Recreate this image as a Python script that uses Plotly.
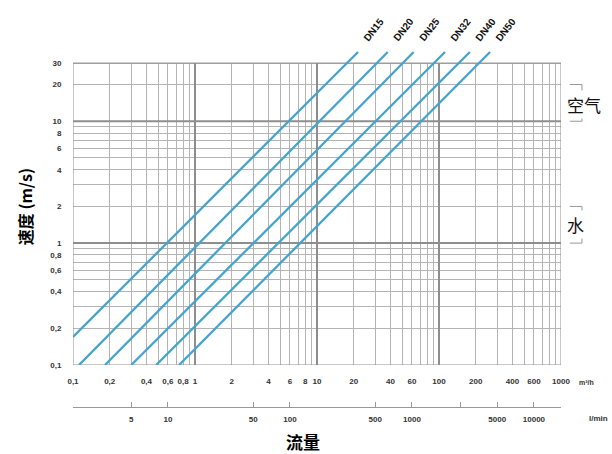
import math
import plotly.graph_objects as go

# ---- data ----
dn_names = ["DN15", "DN20", "DN25", "DN32", "DN40", "DN50"]
flow_start = [0.1, 0.112, 0.183, 0.30, 0.48, 0.74]      # m3/h
vel_start = [0.17, 0.1, 0.1, 0.1, 0.1, 0.1]             # m/s
flow_end = [21.7, 38.0, 62.0, 112.0, 179.0, 262.0]      # m3/h
vel_end = [37.0, 37.0, 37.0, 37.0, 37.0, 37.0]          # m/s

x_tickvals = [0.1, 0.2, 0.4, 0.6, 0.8, 1, 2, 4, 6, 8, 10, 20, 40, 60, 100, 200, 400, 600, 1000]
x_ticktext = ["0,1", "0,2", "0,4", "0,6", "0,8", "1", "2", "4", "6", "8", "10", "20", "40", "60",
              "100", "200", "400", "600", "1000"]
y_tickvals = [0.1, 0.2, 0.4, 0.6, 0.8, 1, 2, 4, 6, 8, 10, 20, 30]
y_ticktext = ["0,1", "0,2", "0,4", "0,6", "0,8", "1", "2", "4", "6", "8", "10", "20", "30"]
lmin_tickvals = [5, 10, 50, 100, 500, 1000, 2500, 5000, 10000]
lmin_ticktext = ["5", "10", "50", "100", "500", "1000", "", "5000", "10000"]

air_range = [10, 20]     # m/s
water_range = [1, 2]     # m/s

# ---- geometry helpers ----
X_MIN, X_MAX = 0.1, 1000
Y_MIN, Y_TOP, Y_MAXR = 0.1, 30, 38.4
LMIN_PER_M3H = 1000 / 60

x_minor = [m * d for d in [0.1, 1, 10, 100] for m in range(1, 10)] + [1000]
y_minor = [m * d for d in [0.1, 1] for m in range(1, 10)] + [10, 20, 30]
x_decades = [1, 10, 100]
y_decades = [1, 10]

BLUE = "#44a4cd"
GRID = "#b4b4b4"
GRID_DARK = "#8e8e8e"
TICKFONT = dict(family="Liberation Sans", size=8, color="#333", weight="bold")

fig = go.Figure()

for i, name in enumerate(dn_names):
    fig.add_trace(go.Scatter(
        x=[flow_start[i], flow_end[i]], y=[vel_start[i], vel_end[i]],
        mode="lines", line=dict(color=BLUE, width=2.3),
        showlegend=False, hoverinfo="skip", name=name))

# invisible trace to host the l/min axis
fig.add_trace(go.Scatter(x=[5, 10000], y=[1, 1], xaxis="x2", yaxis="y",
                         mode="lines", line=dict(width=0), opacity=0,
                         showlegend=False, hoverinfo="skip"))

shapes = []
# white cover above 30 (hides grid, lines stay on top)
shapes.append(dict(type="rect", xref="x", yref="y", x0=X_MIN, x1=X_MAX, y0=Y_TOP, y1=50,
                   fillcolor="white", line=dict(width=0), layer="between"))
for xv in x_decades:
    shapes.append(dict(type="line", xref="x", yref="y", x0=xv, x1=xv, y0=Y_MIN, y1=Y_TOP,
                       line=dict(color=GRID_DARK, width=2), layer="between"))
for yv in y_decades:
    shapes.append(dict(type="line", xref="x", yref="y", x0=X_MIN, x1=X_MAX, y0=yv, y1=yv,
                       line=dict(color=GRID_DARK, width=2), layer="between"))
shapes.append(dict(type="rect", xref="x", yref="y", x0=X_MIN, x1=X_MAX, y0=Y_MIN, y1=Y_TOP,
                   line=dict(color=GRID_DARK, width=1), layer="between"))
# brackets
for rng in (air_range, water_range):
    xa, xb = 1.018, 1.043
    shapes.append(dict(type="line", xref="paper", yref="y", x0=xa, x1=xb, y0=rng[1], y1=rng[1],
                       line=dict(color="#999", width=1)))
    shapes.append(dict(type="line", xref="paper", yref="y", x0=xb, x1=xb, y0=rng[0], y1=rng[1],
                       line=dict(color="#999", width=1)))
    shapes.append(dict(type="line", xref="paper", yref="y", x0=xa, x1=xb, y0=rng[0], y1=rng[0],
                       line=dict(color="#999", width=1)))

annotations = []
for i, name in enumerate(dn_names):
    annotations.append(dict(text=name, xref="x", yref="y",
                            x=math.log10(flow_end[i]), y=math.log10(vel_end[i]),
                            xshift=16, yshift=22, textangle=-52, showarrow=False,
                            xanchor="center", yanchor="middle",
                            font=dict(family="Liberation Sans", size=10, color="#111", weight="bold")))

annotations += [
    dict(text="速度 (m/s)", xref="paper", yref="paper", x=-0.098, y=0.56, textangle=-90,
         showarrow=False, xanchor="center", yanchor="middle",
         font=dict(family="Noto Sans CJK SC", size=16, color="#000", weight="bold")),
    dict(text="流量", xref="paper", yref="paper", x=0.471, y=-0.098, showarrow=False,
         xanchor="center", yanchor="middle",
         font=dict(family="Noto Sans CJK SC", size=17, color="#000", weight="bold")),
    dict(text="空气", xref="paper", yref="paper", x=1.047, y=0.846, showarrow=False,
         xanchor="center", yanchor="middle", bgcolor="white",
         font=dict(family="Noto Sans CJK SC", size=17, color="#111")),
    dict(text="水", xref="paper", yref="paper", x=1.029, y=0.51, showarrow=False,
         xanchor="center", yanchor="middle", bgcolor="white",
         font=dict(family="Noto Sans CJK SC", size=17, color="#111")),
    dict(text="m³/h", xref="paper", yref="paper", x=1.033, y=0.07, showarrow=False,
         xanchor="left", yanchor="middle",
         font=dict(family="Liberation Sans", size=7, color="#333", weight="bold")),
    dict(text="l/min", xref="paper", yref="paper", x=1.076, y=-0.031, showarrow=False,
         xanchor="center", yanchor="middle",
         font=dict(family="Liberation Sans", size=8, color="#333", weight="bold")),
]

fig.update_layout(
    width=612, height=454, autosize=False,
    margin=dict(l=73, r=51, t=50, b=47),
    paper_bgcolor="white", plot_bgcolor="white",
    showlegend=False,
    shapes=shapes, annotations=annotations,
    xaxis=dict(type="log", range=[math.log10(X_MIN), math.log10(X_MAX)], domain=[0, 1],
               anchor="y", tickvals=x_tickvals, ticktext=x_ticktext, tickfont=TICKFONT,
               showgrid=False, showline=False, zeroline=False,
               ticks="outside", ticklen=8, tickcolor="rgba(0,0,0,0)",
               minor=dict(tickvals=x_minor, showgrid=True, gridcolor=GRID, gridwidth=1, ticks="")),
    yaxis=dict(type="log", range=[math.log10(Y_MIN), math.log10(Y_MAXR)], domain=[0.1176, 1],
               tickvals=y_tickvals, ticktext=y_ticktext, tickfont=TICKFONT,
               showgrid=False, showline=False, zeroline=False,
               ticks="outside", ticklen=9, tickcolor="rgba(0,0,0,0)",
               minor=dict(tickvals=y_minor, showgrid=True, gridcolor=GRID, gridwidth=1, ticks="")),
    xaxis2=dict(type="log", overlaying="x", anchor="free", position=0, side="bottom",
                range=[math.log10(X_MIN * LMIN_PER_M3H), math.log10(X_MAX * LMIN_PER_M3H)],
                tickvals=lmin_tickvals, ticktext=lmin_ticktext, tickfont=TICKFONT,
                showgrid=False, showline=True, linecolor="#999", linewidth=1,
                ticks="inside", ticklen=5, tickcolor="#999", zeroline=False,
                ticklabelstandoff=4),
)

fig.write_html("out.html", config={"displayModeBar": False},
               post_script="document.body.style.margin='0';document.body.style.overflow='hidden';")
